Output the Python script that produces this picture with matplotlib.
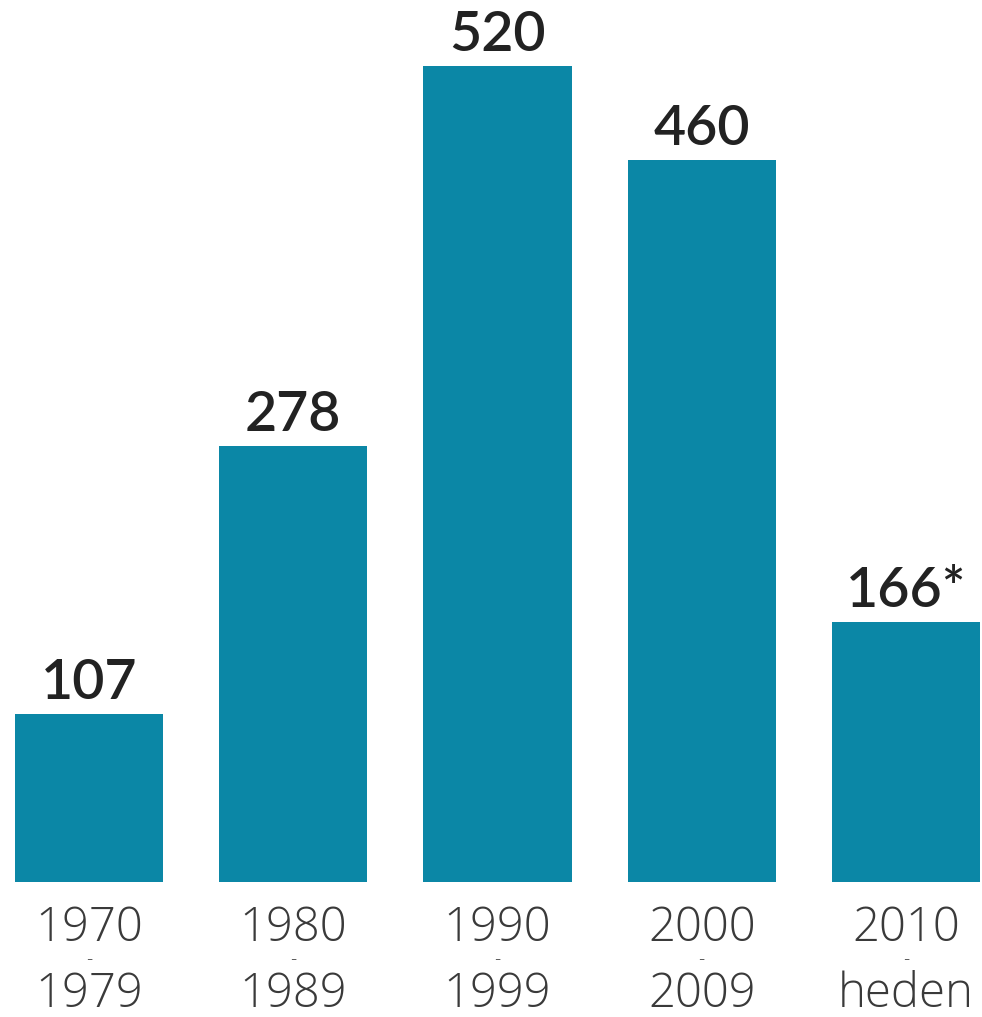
import matplotlib
matplotlib.use("Agg")
import matplotlib.pyplot as plt
from matplotlib import transforms

periods_start = ["1970", "1980", "1990", "2000", "2010"]
periods_end = ["1979", "1989", "1999", "2009", "heden"]
values = [107, 278, 520, 460, 166]
value_labels = ["107", "278", "520", "460", "166*"]

bar_color = "#0B87A6"

fig = plt.figure(figsize=(9.82, 10.17), dpi=100)
ax = fig.add_axes([0, 135 / 1017, 1, 882 / 1017])
x = list(range(len(values)))
ax.bar(x, values, width=0.725, color=bar_color)
ax.set_xlim(-89 / 204.25, (982 - 89) / 204.25)
ax.set_ylim(0, 882 / 1.569)
ax.axis("off")

for xi, v, lab in zip(x, values, value_labels):
    ax.annotate(lab, (xi, v), xytext=(0, 10.8), textcoords="offset points",
                ha="center", va="baseline", fontsize=40, color="#222222",
                family="Lato", weight="semibold")

tr = transforms.blended_transform_factory(ax.transData, fig.transFigure)
for xi, s, e in zip(x, periods_start, periods_end):
    fig.text(xi, 1 - 941 / 1017, s, transform=tr, ha="center", va="baseline",
             fontsize=34, color="#3a3a3a", family="Open Sans", weight="light")
    fig.text(xi, 1 - 964 / 1017, "-", transform=tr, ha="center", va="baseline",
             fontsize=14, color="#3a3a3a", family="Open Sans", weight="light")
    fig.text(xi, 1 - 1007 / 1017, e, transform=tr, ha="center", va="baseline",
             fontsize=34, color="#3a3a3a", family="Open Sans", weight="light")

fig.savefig("out.png", dpi=100)
